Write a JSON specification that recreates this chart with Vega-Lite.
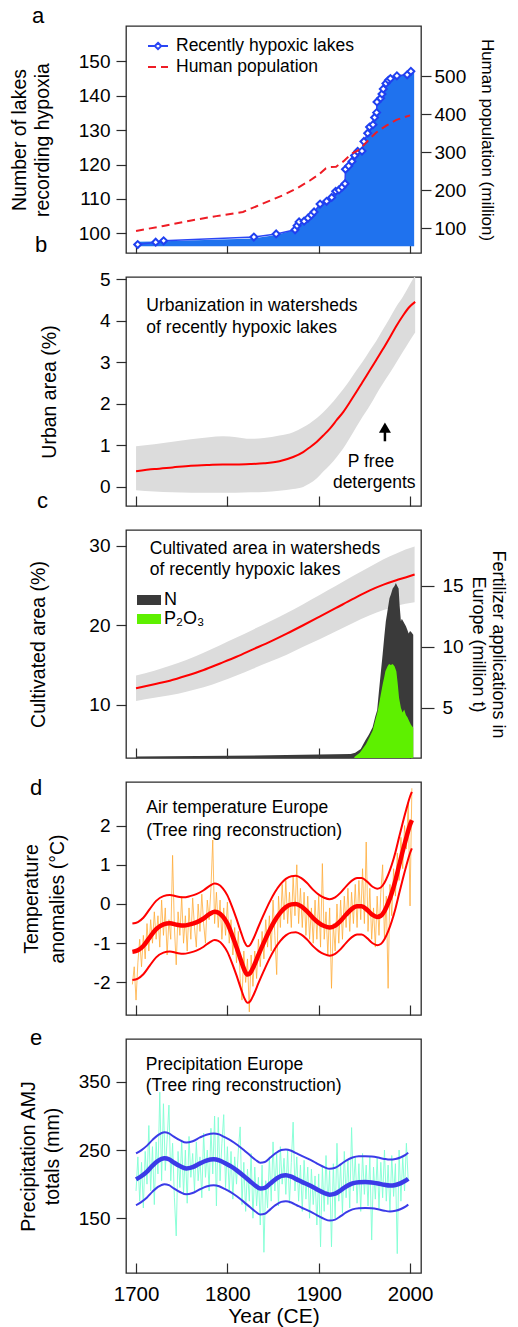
{
"$schema": "https://vega.github.io/schema/vega-lite/v6.json",
"background": "white",
"padding": {"left": 8, "top": 4, "right": 0, "bottom": 2},
"config": {
  "font": "Liberation Sans",
  "view": {"stroke": "#2b2b2b", "strokeWidth": 1.3},
  "axis": {"grid": false, "domain": false, "tickColor": "#2b2b2b", "tickWidth": 1.2, "tickSize": 10, "labelFont": "Liberation Sans", "labelFontSize": 19, "labelColor": "#000", "labelPadding": 6, "titleFont": "Liberation Sans", "titleFontSize": 19.5, "titleFontWeight": "normal", "titleColor": "#000", "labelFlush": false, "labelOverlap": false},
  "title": {"font": "Liberation Sans", "fontSize": 22, "fontWeight": "normal", "anchor": "start", "frame": "group", "baseline": "alphabetic", "color": "#000"},
  "legend": {"labelFont": "Liberation Sans", "labelColor": "#000", "labelFontSize": 17.5, "labelLimit": 400},
  "text": {"font": "Liberation Sans", "fontSize": 17.5, "color": "#000"}
},
"datasets": {
  "hyp": [{"x":1701.8,"n":96.7},{"x":1721.5,"n":97.4},{"x":1730.2,"n":97.8},{"x":1829,"n":98.9},{"x":1853.4,"n":99.8},{"x":1874.1,"n":101.0},{"x":1876.3,"n":102.2},{"x":1878.5,"n":103.3},{"x":1884,"n":103.5},{"x":1888.3,"n":104.4},{"x":1892,"n":105.3},{"x":1894.9,"n":106.2},{"x":1901.5,"n":108.5},{"x":1908.7,"n":109.3},{"x":1914.2,"n":110.4},{"x":1918.6,"n":112.2},{"x":1922.2,"n":112.6},{"x":1925.5,"n":113.4},{"x":1928.8,"n":114.4},{"x":1929.3,"n":118.6},{"x":1932.8,"n":119.6},{"x":1936.4,"n":120.9},{"x":1939.3,"n":122.6},{"x":1942.6,"n":123.8},{"x":1947.4,"n":123.9},{"x":1949.5,"n":126.7},{"x":1953.6,"n":129.1},{"x":1955.7,"n":130.9},{"x":1959.4,"n":131.6},{"x":1961.2,"n":133.7},{"x":1963.4,"n":135.1},{"x":1963.8,"n":138.2},{"x":1967.8,"n":139.3},{"x":1969.3,"n":140.5},{"x":1970.7,"n":142.0},{"x":1973.6,"n":143.6},{"x":1976.3,"n":144.5},{"x":1978.5,"n":145.0},{"x":1985.6,"n":145.8},{"x":1996.9,"n":146.1},{"x":2000.9,"n":147.1}],
  "hypA": [{"x":1700,"n":97.5},{"x":1721.5,"n":97.6},{"x":1730.2,"n":97.7},{"x":1829,"n":98.5},{"x":1853.4,"n":99.5},{"x":1866,"n":100.4},{"x":1874.1,"n":101.0},{"x":1876.3,"n":102.2},{"x":1878.5,"n":103.3},{"x":1884,"n":103.5},{"x":1888.3,"n":104.4},{"x":1892,"n":105.3},{"x":1894.9,"n":106.2},{"x":1901.5,"n":108.5},{"x":1908.7,"n":109.3},{"x":1914.2,"n":110.4},{"x":1918.6,"n":112.2},{"x":1922.2,"n":112.6},{"x":1925.5,"n":113.4},{"x":1928.8,"n":114.4},{"x":1929.3,"n":118.6},{"x":1932.8,"n":119.6},{"x":1936.4,"n":120.9},{"x":1939.3,"n":122.6},{"x":1942.6,"n":123.8},{"x":1947.4,"n":123.9},{"x":1949.5,"n":126.7},{"x":1953.6,"n":129.1},{"x":1955.7,"n":130.9},{"x":1959.4,"n":131.6},{"x":1961.2,"n":133.7},{"x":1963.4,"n":135.1},{"x":1963.8,"n":138.2},{"x":1967.8,"n":139.3},{"x":1969.3,"n":140.5},{"x":1970.7,"n":142.0},{"x":1973.6,"n":143.6},{"x":1976.3,"n":144.5},{"x":1978.5,"n":145.0},{"x":1985.6,"n":145.8},{"x":1996.9,"n":146.1},{"x":2000.9,"n":147.1},{"x":2004.5,"n":147.6}],
  "pop": [{"x":1700,"p":93},{"x":1730,"p":106},{"x":1759,"p":120},{"x":1788,"p":132},{"x":1817,"p":143},{"x":1832,"p":158},{"x":1846,"p":172},{"x":1861,"p":187},{"x":1876,"p":205},{"x":1890,"p":225},{"x":1901,"p":243},{"x":1908,"p":258},{"x":1913,"p":261},{"x":1919,"p":262},{"x":1927,"p":276},{"x":1936,"p":296},{"x":1943,"p":305},{"x":1949,"p":318},{"x":1956,"p":336},{"x":1963,"p":352},{"x":1974,"p":370},{"x":1985,"p":385},{"x":2000,"p":397}],
  "urb": [{"x":1700,"m":0.38,"lo":-0.08,"hi":0.98},{"x":1720,"m":0.43,"lo":-0.11,"hi":1.03},{"x":1740,"m":0.47,"lo":-0.13,"hi":1.09},{"x":1760,"m":0.51,"lo":-0.14,"hi":1.15},{"x":1780,"m":0.53,"lo":-0.14,"hi":1.2},{"x":1795,"m":0.54,"lo":-0.14,"hi":1.22},{"x":1810,"m":0.54,"lo":-0.14,"hi":1.2},{"x":1825,"m":0.55,"lo":-0.13,"hi":1.16},{"x":1840,"m":0.57,"lo":-0.12,"hi":1.18},{"x":1857,"m":0.62,"lo":-0.09,"hi":1.24},{"x":1872,"m":0.72,"lo":-0.05,"hi":1.32},{"x":1883,"m":0.84,"lo":0.0,"hi":1.44},{"x":1890,"m":0.95,"lo":0.08,"hi":1.53},{"x":1898,"m":1.09,"lo":0.21,"hi":1.66},{"x":1905,"m":1.24,"lo":0.37,"hi":1.8},{"x":1912,"m":1.4,"lo":0.52,"hi":1.96},{"x":1920,"m":1.62,"lo":0.73,"hi":2.17},{"x":1927,"m":1.81,"lo":0.93,"hi":2.36},{"x":1934,"m":2.04,"lo":1.18,"hi":2.57},{"x":1941,"m":2.28,"lo":1.44,"hi":2.8},{"x":1948,"m":2.53,"lo":1.69,"hi":3.02},{"x":1956,"m":2.81,"lo":1.96,"hi":3.29},{"x":1963,"m":3.06,"lo":2.23,"hi":3.52},{"x":1970,"m":3.31,"lo":2.48,"hi":3.78},{"x":1978,"m":3.61,"lo":2.75,"hi":4.08},{"x":1985,"m":3.88,"lo":3.0,"hi":4.35},{"x":1992,"m":4.12,"lo":3.25,"hi":4.58},{"x":1999,"m":4.33,"lo":3.5,"hi":4.85},{"x":2005.6,"m":4.46,"lo":3.72,"hi":5.1}],
  "arrowB": [{"x":1972.5,"v":1.1,"v2":1.42,"h":1.43}],
  "txtB": [{"x":1711.3,"v":4.36,"t":"Urbanization in watersheds"},{"x":1711.3,"v":3.84,"t":"of recently hypoxic lakes"}],
  "txtB2": [{"x":1957.2,"v":0.6,"t":"P free"},{"x":1960.8,"v":0.1,"t":"detergents"}],
  "cult": [{"x":1700,"m":12.08,"lo":10.5,"hi":13.7},{"x":1720,"m":12.6,"lo":10.9,"hi":14.3},{"x":1737,"m":13.04,"lo":11.2,"hi":14.9},{"x":1755,"m":13.65,"lo":11.65,"hi":15.65},{"x":1774,"m":14.38,"lo":12.2,"hi":16.55},{"x":1792,"m":15.2,"lo":12.9,"hi":17.5},{"x":1810,"m":16.04,"lo":13.7,"hi":18.45},{"x":1828,"m":16.97,"lo":14.55,"hi":19.45},{"x":1847,"m":17.95,"lo":15.45,"hi":20.5},{"x":1865,"m":18.95,"lo":16.3,"hi":21.55},{"x":1883,"m":20.0,"lo":17.3,"hi":22.65},{"x":1901,"m":21.08,"lo":18.25,"hi":23.8},{"x":1919,"m":22.17,"lo":19.25,"hi":24.95},{"x":1937,"m":23.27,"lo":20.25,"hi":26.15},{"x":1956,"m":24.38,"lo":21.25,"hi":27.35},{"x":1971,"m":25.1,"lo":21.9,"hi":28.3},{"x":1985,"m":25.65,"lo":22.4,"hi":29.0},{"x":1995,"m":26.0,"lo":22.7,"hi":29.5},{"x":2005,"m":26.38,"lo":22.9,"hi":29.9}],
  "txtC": [{"x":1715,"v":29.58,"t":"Cultivated area in watersheds"},{"x":1715,"v":26.88,"t":"of recently hypoxic lakes"}],
  "fertN": [{"x":1700,"v":1.0},{"x":1800,"v":1.05},{"x":1900,"v":1.15},{"x":1935,"v":1.2},{"x":1940,"v":1.3},{"x":1946,"v":1.6},{"x":1951,"v":2.3},{"x":1955,"v":2.8},{"x":1959,"v":3.4},{"x":1962,"v":4.3},{"x":1964,"v":4.8},{"x":1966,"v":6.4},{"x":1968,"v":7.9},{"x":1970,"v":9.4},{"x":1972,"v":11.0},{"x":1973.5,"v":12.1},{"x":1975,"v":12.8},{"x":1977.5,"v":14.0},{"x":1979,"v":14.3},{"x":1981,"v":14.8},{"x":1983,"v":15.0},{"x":1984.5,"v":15.25},{"x":1986,"v":15.0},{"x":1987.5,"v":14.8},{"x":1988.5,"v":13.5},{"x":1990,"v":12.1},{"x":1991,"v":12.3},{"x":1992.5,"v":12.1},{"x":1994,"v":11.9},{"x":1995.5,"v":11.7},{"x":1997,"v":11.4},{"x":1998.5,"v":11.1},{"x":2000,"v":11.3},{"x":2001.5,"v":11.2},{"x":2003.5,"v":11.0}],
  "fertP": [{"x":1939,"v":0.95},{"x":1945,"v":1.3},{"x":1951.7,"v":2.0},{"x":1955,"v":2.5},{"x":1959,"v":3.1},{"x":1962,"v":4.0},{"x":1964.5,"v":4.7},{"x":1967,"v":5.7},{"x":1970,"v":6.9},{"x":1972,"v":7.6},{"x":1973,"v":8.0},{"x":1975.4,"v":8.4},{"x":1977,"v":8.6},{"x":1979,"v":8.5},{"x":1981,"v":8.6},{"x":1983,"v":8.4},{"x":1985,"v":8.0},{"x":1986.5,"v":7.0},{"x":1988,"v":5.8},{"x":1990,"v":5.0},{"x":1991.8,"v":4.6},{"x":1993.6,"v":4.85},{"x":1995.5,"v":4.4},{"x":1997.3,"v":4.2},{"x":1999,"v":3.9},{"x":2001,"v":3.6},{"x":2003.5,"v":3.35}],
  "tsm": [{"x":1696,"m":-1.22,"lo":-1.94,"hi":-0.5},{"x":1702,"m":-1.18,"lo":-1.9,"hi":-0.46},{"x":1708,"m":-1.07,"lo":-1.79,"hi":-0.35},{"x":1715,"m":-0.85,"lo":-1.57,"hi":-0.13},{"x":1722,"m":-0.64,"lo":-1.36,"hi":0.08},{"x":1730,"m":-0.52,"lo":-1.24,"hi":0.2},{"x":1737,"m":-0.49,"lo":-1.21,"hi":0.23},{"x":1745,"m":-0.53,"lo":-1.25,"hi":0.19},{"x":1752,"m":-0.55,"lo":-1.27,"hi":0.17},{"x":1759,"m":-0.52,"lo":-1.24,"hi":0.2},{"x":1766,"m":-0.47,"lo":-1.19,"hi":0.25},{"x":1774,"m":-0.37,"lo":-1.09,"hi":0.35},{"x":1781,"m":-0.25,"lo":-0.97,"hi":0.47},{"x":1786,"m":-0.2,"lo":-0.92,"hi":0.52},{"x":1790,"m":-0.22,"lo":-0.94,"hi":0.5},{"x":1795,"m":-0.32,"lo":-1.04,"hi":0.4},{"x":1800,"m":-0.5,"lo":-1.22,"hi":0.22},{"x":1805,"m":-0.78,"lo":-1.5,"hi":-0.06},{"x":1810,"m":-1.1,"lo":-1.82,"hi":-0.38},{"x":1815,"m":-1.45,"lo":-2.17,"hi":-0.73},{"x":1819,"m":-1.7,"lo":-2.42,"hi":-0.98},{"x":1822,"m":-1.8,"lo":-2.52,"hi":-1.08},{"x":1825,"m":-1.76,"lo":-2.48,"hi":-1.04},{"x":1829,"m":-1.58,"lo":-2.3,"hi":-0.86},{"x":1834,"m":-1.3,"lo":-2.02,"hi":-0.58},{"x":1840,"m":-0.98,"lo":-1.7,"hi":-0.26},{"x":1846,"m":-0.68,"lo":-1.4,"hi":0.04},{"x":1852,"m":-0.42,"lo":-1.14,"hi":0.3},{"x":1858,"m":-0.22,"lo":-0.94,"hi":0.5},{"x":1864,"m":-0.08,"lo":-0.8,"hi":0.64},{"x":1870,"m":-0.01,"lo":-0.73,"hi":0.71},{"x":1875,"m":0.0,"lo":-0.72,"hi":0.72},{"x":1881,"m":-0.06,"lo":-0.78,"hi":0.66},{"x":1887,"m":-0.18,"lo":-0.9,"hi":0.54},{"x":1894,"m":-0.36,"lo":-1.08,"hi":0.36},{"x":1900,"m":-0.48,"lo":-1.2,"hi":0.24},{"x":1906,"m":-0.56,"lo":-1.28,"hi":0.16},{"x":1912,"m":-0.6,"lo":-1.32,"hi":0.12},{"x":1918,"m":-0.55,"lo":-1.27,"hi":0.17},{"x":1924,"m":-0.43,"lo":-1.15,"hi":0.29},{"x":1930,"m":-0.27,"lo":-0.99,"hi":0.45},{"x":1936,"m":-0.13,"lo":-0.85,"hi":0.59},{"x":1942,"m":-0.06,"lo":-0.78,"hi":0.66},{"x":1947,"m":-0.06,"lo":-0.78,"hi":0.66},{"x":1953,"m":-0.15,"lo":-0.87,"hi":0.57},{"x":1959,"m":-0.28,"lo":-1.0,"hi":0.44},{"x":1964,"m":-0.33,"lo":-1.05,"hi":0.39},{"x":1968,"m":-0.3,"lo":-1.02,"hi":0.42},{"x":1972,"m":-0.18,"lo":-0.9,"hi":0.54},{"x":1976,"m":0.02,"lo":-0.7,"hi":0.74},{"x":1980,"m":0.28,"lo":-0.44,"hi":1.0},{"x":1984,"m":0.6,"lo":-0.12,"hi":1.32},{"x":1988,"m":0.98,"lo":0.26,"hi":1.7},{"x":1992,"m":1.35,"lo":0.63,"hi":2.07},{"x":1996,"m":1.7,"lo":0.98,"hi":2.42},{"x":2000,"m":2.02,"lo":1.3,"hi":2.74},{"x":2002,"m":2.14,"lo":1.42,"hi":2.86}],
  "tn": [{"x":1696,"v":-2.05},{"x":1698,"v":-1.6},{"x":1700,"v":-2.45},{"x":1702,"v":-1.5},{"x":1704,"v":-0.9},{"x":1706,"v":-1.6},{"x":1708,"v":-0.8},{"x":1710,"v":-1.4},{"x":1712,"v":-0.5},{"x":1714,"v":-1.2},{"x":1716,"v":-0.4},{"x":1718,"v":-1.0},{"x":1720,"v":-0.2},{"x":1722,"v":-0.9},{"x":1724,"v":-0.3},{"x":1726,"v":-1.1},{"x":1728,"v":0.1},{"x":1730,"v":-0.8},{"x":1732,"v":-0.1},{"x":1734,"v":-1.3},{"x":1736,"v":-0.4},{"x":1738,"v":-0.9},{"x":1740,"v":1.24},{"x":1742,"v":-0.6},{"x":1744,"v":-1.55},{"x":1746,"v":-0.2},{"x":1748,"v":-0.8},{"x":1750,"v":0.2},{"x":1752,"v":-1.0},{"x":1754,"v":-0.3},{"x":1756,"v":-1.2},{"x":1758,"v":-0.1},{"x":1760,"v":-0.9},{"x":1762,"v":0.15},{"x":1764,"v":-0.6},{"x":1766,"v":-1.1},{"x":1768,"v":0.0},{"x":1770,"v":-0.7},{"x":1772,"v":0.25},{"x":1774,"v":-0.5},{"x":1776,"v":-1.0},{"x":1778,"v":0.1},{"x":1780,"v":-0.4},{"x":1782,"v":0.4},{"x":1784,"v":1.63},{"x":1786,"v":-0.5},{"x":1788,"v":0.3},{"x":1790,"v":-0.6},{"x":1792,"v":0.1},{"x":1794,"v":-0.9},{"x":1796,"v":-0.1},{"x":1798,"v":-0.8},{"x":1800,"v":0.05},{"x":1802,"v":-1.0},{"x":1804,"v":-0.4},{"x":1806,"v":-1.3},{"x":1808,"v":-0.6},{"x":1810,"v":-1.5},{"x":1812,"v":-0.7},{"x":1814,"v":-1.9},{"x":1816,"v":-2.45},{"x":1818,"v":-1.2},{"x":1820,"v":-2.0},{"x":1822,"v":-1.4},{"x":1824,"v":-2.75},{"x":1826,"v":-1.3},{"x":1828,"v":-2.1},{"x":1830,"v":-1.2},{"x":1832,"v":-1.9},{"x":1834,"v":-0.9},{"x":1836,"v":-1.6},{"x":1838,"v":-0.7},{"x":1840,"v":-1.4},{"x":1842,"v":-0.4},{"x":1844,"v":-1.1},{"x":1846,"v":-0.3},{"x":1848,"v":-1.2},{"x":1850,"v":0.1},{"x":1852,"v":-0.8},{"x":1854,"v":-1.8},{"x":1856,"v":0.2},{"x":1858,"v":-0.6},{"x":1860,"v":0.5},{"x":1862,"v":-0.4},{"x":1864,"v":0.6},{"x":1866,"v":-0.5},{"x":1868,"v":0.3},{"x":1870,"v":-0.6},{"x":1872,"v":0.7},{"x":1874,"v":-0.3},{"x":1876,"v":1.0},{"x":1878,"v":-0.5},{"x":1880,"v":0.4},{"x":1882,"v":-0.6},{"x":1884,"v":0.3},{"x":1886,"v":-0.8},{"x":1888,"v":0.2},{"x":1890,"v":-0.9},{"x":1892,"v":-0.1},{"x":1894,"v":-1.0},{"x":1896,"v":0.1},{"x":1898,"v":-0.9},{"x":1900,"v":0.2},{"x":1902,"v":-1.1},{"x":1904,"v":1.03},{"x":1906,"v":-0.9},{"x":1908,"v":-0.2},{"x":1910,"v":-1.3},{"x":1912,"v":-0.1},{"x":1914,"v":-2.15},{"x":1916,"v":-0.5},{"x":1918,"v":-1.2},{"x":1920,"v":0.0},{"x":1922,"v":-1.0},{"x":1924,"v":0.1},{"x":1926,"v":-0.9},{"x":1928,"v":0.2},{"x":1930,"v":-0.6},{"x":1932,"v":0.4},{"x":1934,"v":-0.7},{"x":1936,"v":0.3},{"x":1938,"v":-0.5},{"x":1940,"v":0.5},{"x":1942,"v":-0.6},{"x":1944,"v":0.6},{"x":1946,"v":-0.4},{"x":1948,"v":0.9},{"x":1950,"v":-0.5},{"x":1952,"v":1.58},{"x":1954,"v":-0.7},{"x":1956,"v":0.4},{"x":1958,"v":-0.9},{"x":1960,"v":-0.1},{"x":1962,"v":-1.1},{"x":1964,"v":0.2},{"x":1966,"v":-0.8},{"x":1968,"v":0.3},{"x":1970,"v":1.0},{"x":1972,"v":-0.9},{"x":1974,"v":0.2},{"x":1976,"v":-2.15},{"x":1978,"v":0.5},{"x":1980,"v":-0.3},{"x":1982,"v":0.9},{"x":1984,"v":0.2},{"x":1986,"v":1.3},{"x":1988,"v":0.6},{"x":1990,"v":1.7},{"x":1992,"v":0.9},{"x":1994,"v":2.0},{"x":1996,"v":1.4},{"x":1998,"v":2.6},{"x":2000,"v":-0.05},{"x":2002,"v":2.95}],
  "txtD": [{"x":1711.3,"v":2.45,"t":"Air temperature Europe"},{"x":1711.3,"v":1.87,"t":"(Tree ring reconstruction)"}],
  "psm": [{"x":1700,"m":207,"lo":169,"hi":245},{"x":1706,"m":212,"lo":174,"hi":250},{"x":1712,"m":218.5,"lo":180.5,"hi":256.5},{"x":1718,"m":227,"lo":189,"hi":265},{"x":1724,"m":234,"lo":196,"hi":272},{"x":1731,"m":238,"lo":200,"hi":276},{"x":1736,"m":236.5,"lo":198.5,"hi":274.5},{"x":1741,"m":232,"lo":194,"hi":270},{"x":1748,"m":226.5,"lo":188.5,"hi":264.5},{"x":1755,"m":223,"lo":185,"hi":261},{"x":1762,"m":225,"lo":187,"hi":263},{"x":1770,"m":230.5,"lo":192.5,"hi":268.5},{"x":1777,"m":234.5,"lo":196.5,"hi":272.5},{"x":1785,"m":236.5,"lo":198.5,"hi":274.5},{"x":1791,"m":235,"lo":197,"hi":273},{"x":1797,"m":231,"lo":193,"hi":269},{"x":1804,"m":226,"lo":188,"hi":264},{"x":1811,"m":219.5,"lo":181.5,"hi":257.5},{"x":1818,"m":212,"lo":174,"hi":250},{"x":1825,"m":204,"lo":166,"hi":242},{"x":1831,"m":197.5,"lo":159.5,"hi":235.5},{"x":1836,"m":193.5,"lo":155.5,"hi":231.5},{"x":1841,"m":194.5,"lo":156.5,"hi":232.5},{"x":1847,"m":201,"lo":163,"hi":239},{"x":1853,"m":207.5,"lo":169.5,"hi":245.5},{"x":1859,"m":212,"lo":174,"hi":250},{"x":1864,"m":213,"lo":175,"hi":251},{"x":1870,"m":211,"lo":173,"hi":249},{"x":1876,"m":207,"lo":169,"hi":245},{"x":1882,"m":203,"lo":165,"hi":241},{"x":1888,"m":199.5,"lo":161.5,"hi":237.5},{"x":1894,"m":195.5,"lo":157.5,"hi":233.5},{"x":1900,"m":191,"lo":153,"hi":229},{"x":1906,"m":187,"lo":149,"hi":225},{"x":1912,"m":184.5,"lo":146.5,"hi":222.5},{"x":1918,"m":186,"lo":148,"hi":224},{"x":1924,"m":191,"lo":153,"hi":229},{"x":1930,"m":196.5,"lo":158.5,"hi":234.5},{"x":1937,"m":201,"lo":163,"hi":239},{"x":1944,"m":202.8,"lo":164.8,"hi":240.8},{"x":1951,"m":203,"lo":165,"hi":241},{"x":1958,"m":202.5,"lo":164.5,"hi":240.5},{"x":1965,"m":201,"lo":163,"hi":239},{"x":1972,"m":199,"lo":161,"hi":237},{"x":1978,"m":198,"lo":160,"hi":236},{"x":1984,"m":198.8,"lo":160.8,"hi":236.8},{"x":1990,"m":201.5,"lo":163.5,"hi":239.5},{"x":1995,"m":205,"lo":167,"hi":243},{"x":1998,"m":208,"lo":170,"hi":246}],
  "pn": [{"x":1700,"v":190},{"x":1702,"v":240},{"x":1704,"v":175},{"x":1706,"v":232},{"x":1708,"v":165},{"x":1710,"v":248},{"x":1712,"v":200},{"x":1714,"v":286},{"x":1716,"v":190},{"x":1718,"v":255},{"x":1720,"v":170},{"x":1722,"v":262},{"x":1724,"v":215},{"x":1726,"v":335},{"x":1728,"v":205},{"x":1730,"v":318},{"x":1732,"v":220},{"x":1734,"v":265},{"x":1736,"v":316},{"x":1738,"v":205},{"x":1740,"v":260},{"x":1742,"v":180},{"x":1744,"v":124},{"x":1746,"v":248},{"x":1748,"v":195},{"x":1750,"v":265},{"x":1752,"v":185},{"x":1754,"v":250},{"x":1756,"v":172},{"x":1758,"v":270},{"x":1760,"v":210},{"x":1762,"v":245},{"x":1764,"v":190},{"x":1766,"v":262},{"x":1768,"v":205},{"x":1770,"v":240},{"x":1772,"v":180},{"x":1774,"v":275},{"x":1776,"v":210},{"x":1778,"v":250},{"x":1780,"v":190},{"x":1782,"v":282},{"x":1784,"v":215},{"x":1786,"v":300},{"x":1788,"v":168},{"x":1790,"v":298},{"x":1792,"v":205},{"x":1794,"v":260},{"x":1796,"v":302},{"x":1798,"v":195},{"x":1800,"v":255},{"x":1802,"v":188},{"x":1804,"v":248},{"x":1806,"v":178},{"x":1808,"v":240},{"x":1810,"v":200},{"x":1812,"v":250},{"x":1814,"v":284},{"x":1816,"v":170},{"x":1818,"v":232},{"x":1820,"v":160},{"x":1822,"v":222},{"x":1824,"v":175},{"x":1826,"v":245},{"x":1828,"v":150},{"x":1830,"v":225},{"x":1832,"v":168},{"x":1834,"v":210},{"x":1836,"v":140},{"x":1838,"v":228},{"x":1840,"v":100},{"x":1842,"v":205},{"x":1844,"v":165},{"x":1846,"v":240},{"x":1848,"v":175},{"x":1850,"v":262},{"x":1852,"v":190},{"x":1854,"v":245},{"x":1856,"v":168},{"x":1858,"v":255},{"x":1860,"v":200},{"x":1862,"v":238},{"x":1864,"v":185},{"x":1866,"v":250},{"x":1868,"v":172},{"x":1870,"v":232},{"x":1872,"v":291},{"x":1874,"v":190},{"x":1876,"v":240},{"x":1878,"v":175},{"x":1880,"v":228},{"x":1882,"v":160},{"x":1884,"v":235},{"x":1886,"v":178},{"x":1888,"v":225},{"x":1890,"v":150},{"x":1892,"v":222},{"x":1894,"v":170},{"x":1896,"v":212},{"x":1898,"v":140},{"x":1900,"v":215},{"x":1902,"v":108},{"x":1904,"v":225},{"x":1906,"v":160},{"x":1908,"v":242},{"x":1910,"v":170},{"x":1912,"v":220},{"x":1914,"v":108},{"x":1916,"v":230},{"x":1918,"v":150},{"x":1920,"v":260},{"x":1922,"v":175},{"x":1924,"v":228},{"x":1926,"v":158},{"x":1928,"v":248},{"x":1930,"v":180},{"x":1932,"v":235},{"x":1934,"v":165},{"x":1936,"v":283},{"x":1938,"v":190},{"x":1940,"v":240},{"x":1942,"v":172},{"x":1944,"v":230},{"x":1946,"v":160},{"x":1948,"v":245},{"x":1950,"v":185},{"x":1952,"v":228},{"x":1954,"v":168},{"x":1956,"v":240},{"x":1958,"v":118},{"x":1960,"v":225},{"x":1962,"v":178},{"x":1964,"v":238},{"x":1966,"v":165},{"x":1968,"v":232},{"x":1970,"v":180},{"x":1972,"v":250},{"x":1974,"v":175},{"x":1976,"v":228},{"x":1978,"v":160},{"x":1980,"v":242},{"x":1982,"v":182},{"x":1984,"v":230},{"x":1986,"v":98},{"x":1988,"v":250},{"x":1990,"v":175},{"x":1992,"v":240},{"x":1994,"v":190},{"x":1996,"v":260},{"x":1998,"v":205}],
  "txtE": [{"x":1710.6,"v":375.5,"t":"Precipitation Europe"},{"x":1710.6,"v":344.2,"t":"(Tree ring reconstruction)"}]
},
"bounds": "flush",
"spacing": 24,
"resolve": {"scale": {"stroke": "independent", "strokeDash": "independent", "fill": "independent"}},
"vconcat": [
 {
  "width": 295, "height": 227,
  "title": {"text": "a", "offset": -2, "dx": -94},
  "layer": [
   {"layer": [
     {"data": {"name": "hypA"}, "mark": {"type": "area", "color": "#1f72ee", "opacity": 1, "clip": true},
      "encoding": {
        "x": {"field": "x", "type": "quantitative", "scale": {"domain": [1689, 2012], "nice": false, "zero": false}, "axis": {"values": [1700, 1800, 1900, 2000], "labels": false, "tickSize": -10, "title": null}},
        "y": {"field": "n", "type": "quantitative", "scale": {"domain": [94.25, 160.3], "nice": false, "zero": false}, "axis": {"values": [100, 110, 120, 130, 140, 150], "title": ["Number of lakes", "recording hypoxia"], "titlePadding": 26, "titleLineHeight": 23}},
        "y2": {"datum": 96.2}}},
     {"data": {"name": "hyp"}, "mark": {"type": "line", "strokeWidth": 1.5},
      "encoding": {
        "x": {"field": "x", "type": "quantitative"},
        "y": {"field": "n", "type": "quantitative"},
        "stroke": {"datum": "Recently hypoxic lakes", "scale": {"range": ["#2a46f5"]}, "legend": {"orient": "none", "legendX": 21, "legendY": 9, "title": null, "symbolType": "M-1,0H-0.32M0.32,0H1M0,-0.32L0.32,0L0,0.32L-0.32,0Z", "symbolSize": 400, "symbolStrokeWidth": 2, "symbolFillColor": "white", "labelFontSize": 17.5, "labelOffset": 7, "labelLimit": 400, "padding": 0}}}},
     {"data": {"name": "hyp"}, "mark": {"type": "point", "shape": "diamond", "filled": true, "fill": "white", "stroke": "#2040f0", "strokeWidth": 2, "size": 48, "opacity": 1},
      "encoding": {"x": {"field": "x", "type": "quantitative"}, "y": {"field": "n", "type": "quantitative"}}}
   ]},
   {"data": {"name": "pop"}, "mark": {"type": "line", "color": "#ee1c25", "strokeWidth": 2},
    "encoding": {
      "x": {"field": "x", "type": "quantitative"},
      "y": {"field": "p", "type": "quantitative", "scale": {"domain": [35, 632], "nice": false, "zero": false}, "axis": {"orient": "right", "values": [100, 200, 300, 400, 500], "title": "Human population (million)", "titleFontSize": 17, "titlePadding": 12, "labelPadding": 3}},
      "strokeDash": {"datum": "Human population", "scale": {"range": [[8, 5]]}, "legend": {"orient": "none", "legendX": 21, "legendY": 30, "title": null, "symbolType": "M-1,0H1", "symbolSize": 400, "symbolStrokeWidth": 2, "symbolStrokeColor": "#ee1c25", "labelFontSize": 17.5, "labelOffset": 7, "labelLimit": 400, "padding": 0}}}}
  ],
  "resolve": {"scale": {"y": "independent"}}
 },
 {
  "width": 295, "height": 229,
  "title": {"text": "b", "offset": 13, "dx": -91},
  "layer": [
   {"data": {"name": "urb"}, "mark": {"type": "area", "color": "#dcdcdc", "opacity": 1, "clip": true, "interpolate": "monotone"},
    "encoding": {
      "x": {"field": "x", "type": "quantitative", "scale": {"domain": [1689, 2012], "nice": false, "zero": false}, "axis": {"values": [1700, 1800, 1900, 2000], "labels": false, "tickSize": -10, "title": null}},
      "y": {"field": "lo", "type": "quantitative", "scale": {"domain": [-0.46, 5.06], "nice": false, "zero": false}, "axis": {"values": [0, 1, 2, 3, 4, 5], "title": "Urban area (%)", "titlePadding": 40}},
      "y2": {"field": "hi"}}},
   {"data": {"name": "urb"}, "mark": {"type": "line", "color": "#ff0000", "strokeWidth": 2, "clip": true, "interpolate": "monotone"},
    "encoding": {"x": {"field": "x", "type": "quantitative"}, "y": {"field": "m", "type": "quantitative"}}},
   {"data": {"name": "arrowB"}, "mark": {"type": "rule", "strokeWidth": 2.5, "color": "#000"},
    "encoding": {"x": {"field": "x", "type": "quantitative"}, "y": {"field": "v", "type": "quantitative"}, "y2": {"field": "v2"}}},
   {"data": {"name": "arrowB"}, "mark": {"type": "point", "shape": "triangle-up", "filled": true, "color": "#000", "opacity": 1, "size": 144},
    "encoding": {"x": {"field": "x", "type": "quantitative"}, "y": {"field": "h", "type": "quantitative"}}},
   {"data": {"name": "txtB"}, "mark": {"type": "text", "align": "left", "baseline": "middle"},
    "encoding": {"x": {"field": "x", "type": "quantitative"}, "y": {"field": "v", "type": "quantitative"}, "text": {"field": "t"}}},
   {"data": {"name": "txtB2"}, "mark": {"type": "text", "align": "center", "baseline": "middle"},
    "encoding": {"x": {"field": "x", "type": "quantitative"}, "y": {"field": "v", "type": "quantitative"}, "text": {"field": "t"}}}
  ]
 },
 {
  "width": 295, "height": 228,
  "title": {"text": "c", "offset": 17, "dx": -89},
  "layer": [
   {"layer": [
     {"data": {"name": "cult"}, "mark": {"type": "area", "color": "#dcdcdc", "opacity": 1, "interpolate": "monotone"},
      "encoding": {
        "x": {"field": "x", "type": "quantitative", "scale": {"domain": [1689, 2012], "nice": false, "zero": false}, "axis": {"values": [1700, 1800, 1900, 2000], "labels": false, "tickSize": -10, "title": null}},
        "y": {"field": "lo", "type": "quantitative", "scale": {"domain": [3.33, 31.96], "nice": false, "zero": false}, "axis": {"values": [10, 20, 30], "title": "Cultivated area (%)", "titlePadding": 40}},
        "y2": {"field": "hi"}}},
     {"data": {"name": "cult"}, "mark": {"type": "line", "color": "#ff0000", "strokeWidth": 2, "interpolate": "monotone"},
      "encoding": {"x": {"field": "x", "type": "quantitative"}, "y": {"field": "m", "type": "quantitative"}}},
     {"data": {"name": "txtC"}, "mark": {"type": "text", "align": "left", "baseline": "middle"},
      "encoding": {"x": {"field": "x", "type": "quantitative"}, "y": {"field": "v", "type": "quantitative"}, "text": {"field": "t"}}}
   ]},
   {"layer": [
     {"data": {"name": "fertN"}, "mark": {"type": "area", "opacity": 1, "clip": true},
      "encoding": {
        "x": {"field": "x", "type": "quantitative"},
        "y": {"field": "v", "type": "quantitative", "scale": {"domain": [0.87, 19.6], "nice": false, "zero": false}, "axis": {"orient": "right", "values": [5, 10, 15], "title": ["Fertilizer applications in", "Europe (million t)"], "titleFontSize": 18, "tickSize": 13, "labelPadding": 8, "titlePadding": 5, "titleLineHeight": 20}},
        "y2": {"datum": 0.87},
        "fill": {"datum": "N", "scale": {"domain": ["N", "P\u2082O\u2083"], "range": ["#3a3a3a", "#5ef000"]}, "legend": {"orient": "none", "legendX": 13, "legendY": 60, "title": null, "symbolType": "M-1.2,-0.5H1.2V0.5H-1.2Z", "symbolSize": 400, "symbolStrokeWidth": 0, "symbolOpacity": 1, "labelFontSize": 18, "labelOffset": 5, "rowPadding": 0, "padding": 0}}}},
     {"data": {"name": "fertP"}, "mark": {"type": "area", "opacity": 1, "clip": true},
      "encoding": {
        "x": {"field": "x", "type": "quantitative"},
        "y": {"field": "v", "type": "quantitative"},
        "y2": {"datum": 0.87},
        "fill": {"datum": "P\u2082O\u2083"}}}
   ]}
  ],
  "resolve": {"scale": {"y": "independent"}}
 },
 {
  "width": 295, "height": 233,
  "title": {"text": "d", "offset": -18, "dx": -96},
  "layer": [
   {"data": {"name": "tn"}, "mark": {"type": "line", "color": "#ffaa33", "strokeWidth": 0.9, "opacity": 0.85, "clip": true},
    "encoding": {
      "x": {"field": "x", "type": "quantitative", "scale": {"domain": [1689, 2012], "nice": false, "zero": false}, "axis": {"values": [1700, 1800, 1900, 2000], "labels": false, "tickSize": -10, "title": null}},
      "y": {"field": "v", "type": "quantitative", "scale": {"domain": [-2.83, 3.11], "nice": false, "zero": false}, "axis": {"values": [-2, -1, 0, 1, 2], "title": ["Temperature", "anomalies (\u00b0C)"], "titlePadding": 26, "titleLineHeight": 26, "labelExpr": "replace(datum.label, '\u2212', '-')"}}}},
   {"data": {"name": "tsm"}, "mark": {"type": "line", "color": "#ff0000", "strokeWidth": 2, "interpolate": "monotone"},
    "encoding": {"x": {"field": "x", "type": "quantitative"}, "y": {"field": "lo", "type": "quantitative"}}},
   {"data": {"name": "tsm"}, "mark": {"type": "line", "color": "#ff0000", "strokeWidth": 2, "interpolate": "monotone"},
    "encoding": {"x": {"field": "x", "type": "quantitative"}, "y": {"field": "hi", "type": "quantitative"}}},
   {"data": {"name": "tsm"}, "mark": {"type": "line", "color": "#ff0000", "strokeWidth": 4.5, "interpolate": "monotone"},
    "encoding": {"x": {"field": "x", "type": "quantitative"}, "y": {"field": "m", "type": "quantitative"}}},
   {"data": {"name": "txtD"}, "mark": {"type": "text", "align": "left", "baseline": "middle"},
    "encoding": {"x": {"field": "x", "type": "quantitative"}, "y": {"field": "v", "type": "quantitative"}, "text": {"field": "t"}}}
  ]
 },
 {
  "width": 295, "height": 234,
  "title": {"text": "e", "offset": -11, "dx": -96},
  "layer": [
   {"data": {"name": "pn"}, "mark": {"type": "line", "color": "#7fffd4", "strokeWidth": 0.9, "clip": true},
    "encoding": {
      "x": {"field": "x", "type": "quantitative", "scale": {"domain": [1689, 2012], "nice": false, "zero": false}, "axis": {"values": [1700, 1800, 1900, 2000], "tickSize": -10, "labelPadding": 21, "labelFontSize": 20.5, "format": "d", "title": "Year (CE)", "titleFontSize": 21, "titlePadding": 1}},
      "y": {"field": "v", "type": "quantitative", "scale": {"domain": [69.6, 413], "nice": false, "zero": false}, "axis": {"values": [150, 250, 350], "title": ["Precipitation AMJ", "totals (mm)"], "titlePadding": 16, "titleLineHeight": 24}}}},
   {"data": {"name": "psm"}, "mark": {"type": "line", "color": "#3b3be8", "strokeWidth": 2, "interpolate": "monotone"},
    "encoding": {"x": {"field": "x", "type": "quantitative"}, "y": {"field": "lo", "type": "quantitative"}}},
   {"data": {"name": "psm"}, "mark": {"type": "line", "color": "#3b3be8", "strokeWidth": 2, "interpolate": "monotone"},
    "encoding": {"x": {"field": "x", "type": "quantitative"}, "y": {"field": "hi", "type": "quantitative"}}},
   {"data": {"name": "psm"}, "mark": {"type": "line", "color": "#3b3be8", "strokeWidth": 4.5, "interpolate": "monotone"},
    "encoding": {"x": {"field": "x", "type": "quantitative"}, "y": {"field": "m", "type": "quantitative"}}},
   {"data": {"name": "txtE"}, "mark": {"type": "text", "align": "left", "baseline": "middle"},
    "encoding": {"x": {"field": "x", "type": "quantitative"}, "y": {"field": "v", "type": "quantitative"}, "text": {"field": "t"}}}
  ]
 }
]
}
